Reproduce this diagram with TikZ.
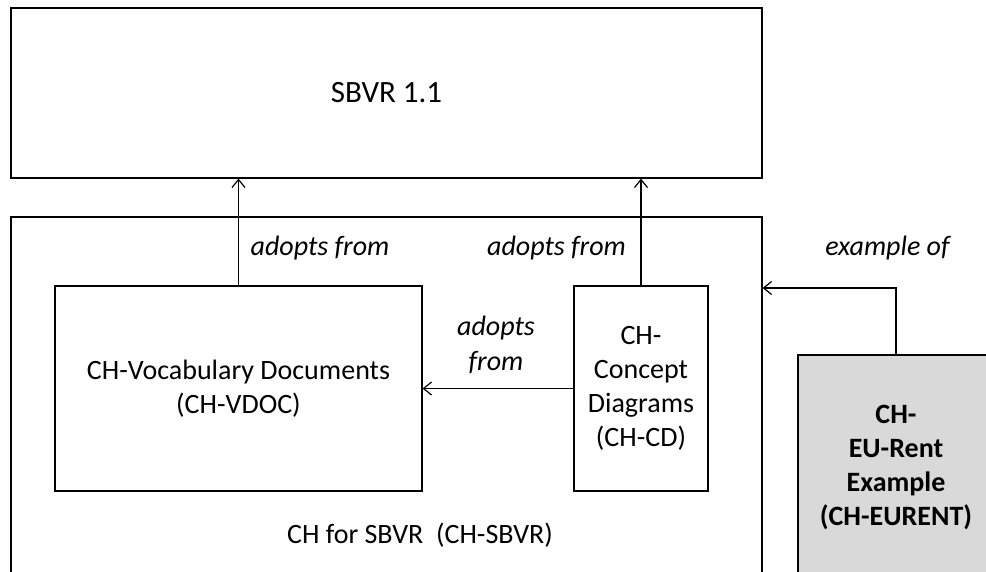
\documentclass[tikz,border=0pt]{standalone}
\usepackage{fontspec}
\setmainfont{Carlito}
\usepackage{tikz}
\usetikzlibrary{arrows.meta}

\definecolor{boxgray}{HTML}{D9D9D9}

\begin{document}
\begin{tikzpicture}[x=1pt, y=-1pt, line width=1.2pt,
    every node/.style={font=\fontsize{28}{34}\selectfont},
    docbox/.style={draw, inner sep=0pt, align=center},
    adopts/.style={-{Straight Barb[length=8pt, width=13pt, line width=1.2pt]}},
    rel/.style={anchor=base, font=\fontsize{28}{35}\selectfont\itshape}]

%% Define the page
% the outer box and the example box run off the page
\clip (0, 0) rectangle (986, 571);

%% Define the boxes
\node [docbox, minimum width=751, minimum height=170,
	font=\fontsize{31}{36}\selectfont] (sbvr) at (386.5, 93) {SBVR 1.1};
\node [docbox, minimum width=751, minimum height=420] (chsbvr) at (386.5, 427) {};
	\node [anchor=base] (chsbvrlbl) at (420, 543) {CH for SBVR\ \ (CH-SBVR)};
	\node [docbox, minimum width=367, minimum height=205] (vdoc) at (238.5, 388.5)
		{CH-Vocabulary Documents\\(CH-VDOC)};
	\node [docbox, minimum width=134, minimum height=205] (cd) at (641, 388.5)
		{CH-\\Concept\\Diagrams\\(CH-CD)};
\node [docbox, fill=boxgray, minimum width=196, minimum height=225,
	font=\fontsize{28}{34}\selectfont\bfseries] (eurent) at (896, 467.5)
	{CH-\\EU-Rent\\Example\\(CH-EURENT)};

%% Define the arrow ends
\coordinate (Eb) at (eurent.north);
\coordinate (Ee) at (chsbvr.east |- 0, 288);

%% Draw the relations
\draw [adopts] (vdoc.north) to (vdoc.north |- sbvr.south);
\draw [adopts] (cd.north) to (cd.north |- sbvr.south);
\draw [adopts] (cd.west) to (vdoc.east);
\draw [adopts] (Eb) |- (Ee);

%% Labels
% base of a two-line node is the last line
\node [rel] (lblvdoc) at (320, 255) {adopts from};
\node [rel] (lblcd) at (556.5, 255) {adopts from};
\node [rel, align=center] (lblcdvdoc) at (496, 370) {adopts\\from};
\node [rel] (lbleurent) at (887.5, 255) {example of};

\end{tikzpicture}
\end{document}
